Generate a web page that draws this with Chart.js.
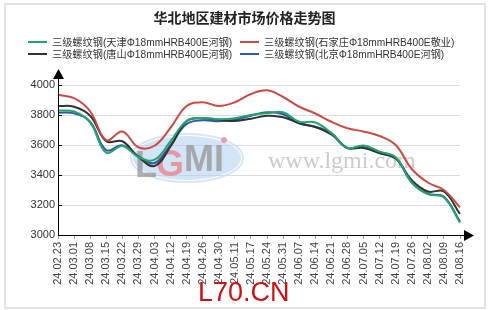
<!DOCTYPE html>
<html>
<head>
<meta charset="utf-8">
<script src="https://cdn.jsdelivr.net/npm/chart.js@4"></script>
<style>
  html, body { margin: 0; padding: 0; background: #fff; }
  #wrap { position: relative; width: 489px; height: 310px; }
  #frame { position: absolute; left: 4px; top: 3px; width: 478px; height: 302px; border: 2px solid #e2e2e2; box-sizing: content-box; }
  #title { position: absolute; left: 0; top: 7px; width: 489px; text-align: center;
           font: bold 14px "Noto Sans CJK SC", sans-serif; color: #222; }
  .lg { position: absolute; font: 10.2px "Liberation Sans", "Noto Sans CJK SC", sans-serif; color: #333; white-space: nowrap; line-height: 12px; }
  .lg i { display: inline-block; width: 19px; height: 2px; vertical-align: middle; margin-right: 5px; position: relative; top: -1px; }
  canvas { position: absolute; left: 0; top: 0; }
</style>
</head>
<body>
<div id="wrap">
  <div id="frame"></div>
  <canvas id="c" width="489" height="310"></canvas>
  <div id="title">华北地区建材市场价格走势图</div>
  <div id="legend"></div>
</div>
<script>
// ── 数据 ─────────────────────────────────────────────
const DATES = [
  "24.02.23", "24.03.01", "24.03.08", "24.03.15", "24.03.22", "24.03.29", "24.04.03",
  "24.04.12", "24.04.19", "24.04.26", "24.04.30", "24.05.11", "24.05.17", "24.05.24",
  "24.05.31", "24.06.07", "24.06.14", "24.06.21", "24.06.28", "24.07.05", "24.07.12",
  "24.07.19", "24.07.26", "24.08.02", "24.08.09", "24.08.16",
];

const TIANJIN = [3830, 3823, 3750, 3548, 3593, 3520, 3502, 3625, 3760, 3780, 3772, 3778, 3800,
                 3812, 3818, 3755, 3750, 3680, 3580, 3597, 3556, 3518, 3350, 3272, 3250, 3082];
const SHIJIAZHUANG = [3935, 3912, 3825, 3632, 3690, 3585, 3595, 3715, 3860, 3885, 3860, 3885, 3940,
                      3965, 3920, 3855, 3810, 3755, 3712, 3690, 3660, 3600, 3440, 3350, 3300, 3185];
const TANGSHAN = [3860, 3855, 3795, 3625, 3625, 3520, 3460, 3590, 3760, 3778, 3768, 3760, 3775,
                  3795, 3785, 3745, 3720, 3670, 3580, 3580, 3545, 3510, 3365, 3290, 3290, 3140];
const BEIJING = [3815, 3811, 3755, 3565, 3598, 3525, 3480, 3600, 3740, 3765, 3758, 3768, 3795,
                 3818, 3805, 3745, 3722, 3680, 3580, 3592, 3552, 3515, 3350, 3275, 3255, 3090];

const Y_MIN = 3000, Y_MAX = 4000, Y_STEP = 200;

const SERIES = [
  { name: "三级螺纹钢(天津Φ18mmHRB400E河钢)",     data: TIANJIN,      color: "#23a46a" },
  { name: "三级螺纹钢(石家庄Φ18mmHRB400E敬业)",   data: SHIJIAZHUANG, color: "#cc4a44" },
  { name: "三级螺纹钢(唐山Φ18mmHRB400E河钢)",     data: TANGSHAN,     color: "#333333" },
  { name: "三级螺纹钢(北京Φ18mmHRB400E河钢)",     data: BEIJING,      color: "#2d5aa8" },
];

// ── 图例（两列两行）──────────────────────────────────
const LEGEND_POS = [[28, 37], [240, 37], [28, 49], [240, 49]];
document.getElementById("legend").innerHTML = SERIES.map((s, i) => {
  const [x, y] = LEGEND_POS[i];
  return `<div class="lg" style="left:${x}px;top:${y}px"><i style="background:${s.color}"></i>${s.name}</div>`;
}).join("");

// ── 水印 / 坐标箭头 ───────────────────────────────────
const decorPlugin = {
  id: "decor",
  beforeDatasetsDraw(chart) {
    const ctx = chart.ctx;
    ctx.save();
    // LGMI logo
    ctx.beginPath();
    ctx.ellipse(187, 158, 54, 22, 0, 0, Math.PI * 2);
    ctx.fillStyle = "rgba(175,205,238,0.55)";
    ctx.fill();
    ctx.beginPath();
    ctx.ellipse(187, 158, 56, 24, 0, 0, Math.PI * 2);
    ctx.strokeStyle = "rgba(200,220,242,0.7)";
    ctx.lineWidth = 2;
    ctx.stroke();
    ctx.font = "bold 36px 'Liberation Sans', sans-serif";
    ctx.textBaseline = "alphabetic";
    ctx.fillStyle = "rgba(150,150,150,0.75)";
    ctx.fillText("L", 135, 177);
    ctx.fillStyle = "rgba(240,120,130,0.7)";
    ctx.fillText("G", 156, 176);
    ctx.fillStyle = "rgba(150,150,150,0.75)";
    ctx.fillText("MI", 184, 171);
    ctx.beginPath();
    ctx.arc(224, 140, 3, 0, Math.PI * 2);
    ctx.fillStyle = "rgba(240,120,130,0.7)";
    ctx.fill();
    // www.lgmi.com
    ctx.font = "24px 'Liberation Serif', serif";
    ctx.fillStyle = "rgba(140,140,140,0.45)";
    ctx.fillText("www.lgmi.com", 268, 168);
    ctx.restore();
  },
  afterDraw(chart) {
    const ctx = chart.ctx;
    const a = chart.chartArea;
    ctx.save();
    ctx.strokeStyle = "#000";
    ctx.fillStyle = "#000";
    ctx.lineWidth = 1;
    // y 轴
    ctx.beginPath();
    ctx.moveTo(a.left + 0.5, a.bottom);
    ctx.lineTo(a.left + 0.5, a.top - 10);
    ctx.stroke();
    ctx.beginPath();
    ctx.moveTo(a.left + 0.5, a.top - 16);
    ctx.lineTo(a.left - 5, a.top - 6);
    ctx.lineTo(a.left + 6, a.top - 6);
    ctx.closePath();
    ctx.fill();
    // x 轴
    ctx.beginPath();
    ctx.moveTo(a.left, a.bottom + 0.5);
    ctx.lineTo(a.right + 6, a.bottom + 0.5);
    ctx.stroke();
    ctx.beginPath();
    ctx.moveTo(a.right + 14, a.bottom + 0.5);
    ctx.lineTo(a.right + 4, a.bottom - 5);
    ctx.lineTo(a.right + 4, a.bottom + 6);
    ctx.closePath();
    ctx.fill();
    // y 轴内侧刻度
    const ys = chart.scales.y;
    ys.ticks.forEach(t => {
      const py = Math.round(ys.getPixelForValue(t.value)) + 0.5;
      ctx.beginPath();
      ctx.moveTo(a.left, py);
      ctx.lineTo(a.left + 4, py);
      ctx.stroke();
    });
    // L70.CN
    ctx.font = "27px 'Liberation Sans', sans-serif";
    ctx.fillStyle = "#d01010";
    ctx.textBaseline = "alphabetic";
    ctx.fillText("L70.CN", 198, 301);
    ctx.restore();
  },
};

new Chart(document.getElementById("c").getContext("2d"), {
  type: "line",
  data: {
    labels: DATES,
    datasets: SERIES.map(s => ({
      label: s.name,
      data: s.data,
      borderColor: s.color,
      backgroundColor: s.color,
      borderWidth: 2,
      pointRadius: 0,
      tension: 0.4,
      fill: false,
    })),
  },
  options: {
    responsive: false,
    animation: false,
    layout: { padding: { left: 0, top: 85, right: 29, bottom: 0 } },
    plugins: {
      legend: { display: false },
      title: { display: false },
      tooltip: { enabled: false },
    },
    scales: {
      x: {
        offset: false,
        afterFit: s => { s.height = 75; },
        border: { display: false },
        grid: { drawOnChartArea: false, drawTicks: true, tickLength: 4, color: "#999" },
        ticks: {
          autoSkip: false,
          minRotation: 90,
          maxRotation: 90,
          padding: 3,
          color: "#444",
          font: { family: "'Liberation Sans', sans-serif", size: 11 },
        },
      },
      y: {
        min: Y_MIN,
        max: Y_MAX,
        afterFit: s => { s.width = 58; },
        border: { display: false },
        grid: { color: "#dcdcdc", drawTicks: false },
        ticks: {
          stepSize: Y_STEP,
          padding: 3,
          color: "#333",
          font: { family: "'Liberation Sans', sans-serif", size: 11 },
          callback: v => String(v),
        },
      },
    },
  },
  plugins: [decorPlugin],
});
</script>
</body>
</html>
